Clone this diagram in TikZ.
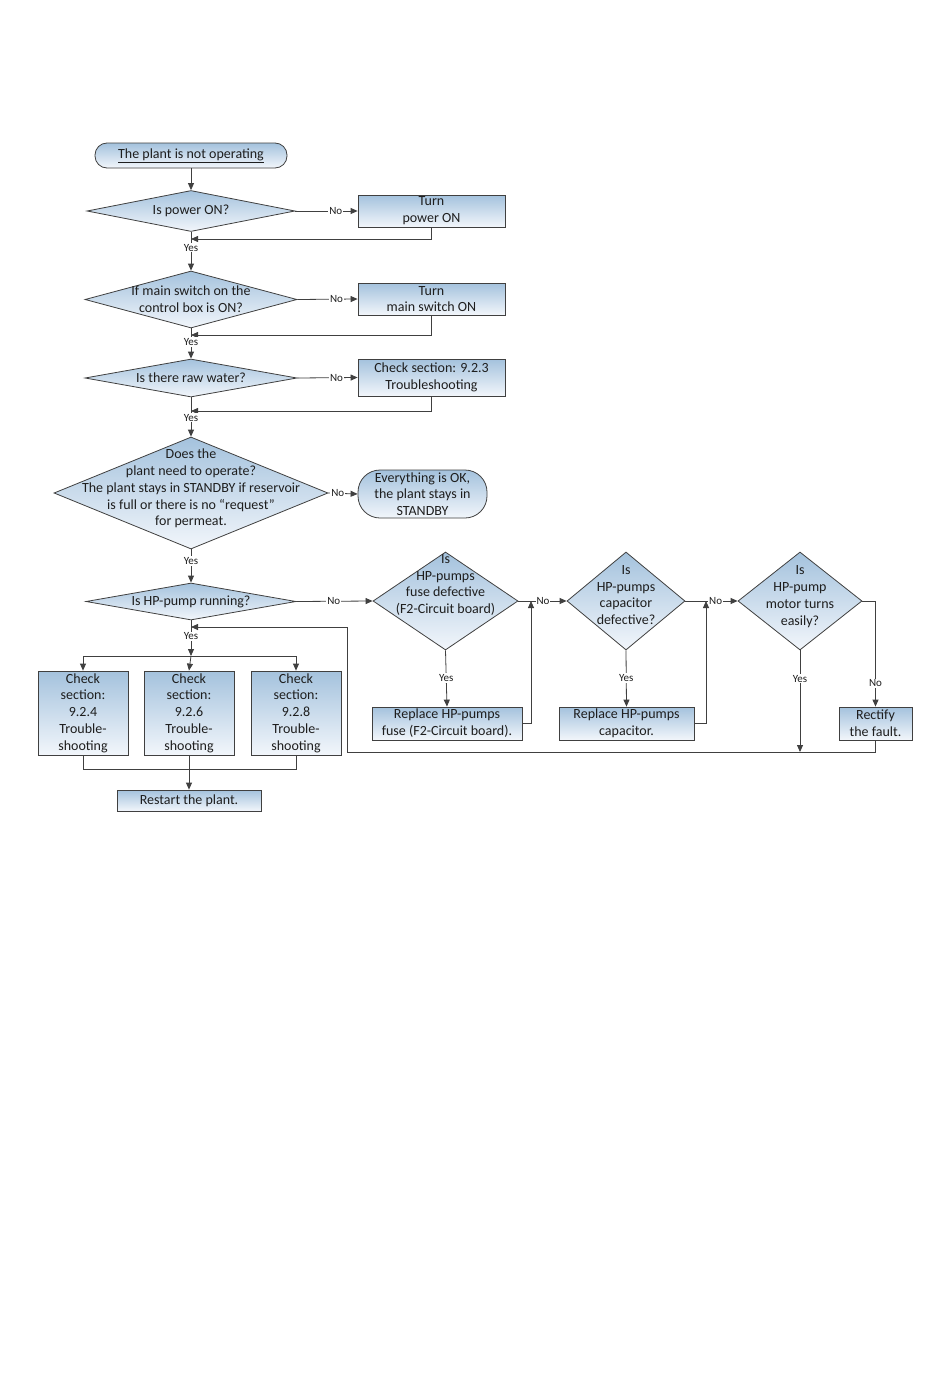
\documentclass[tikz,border=0pt]{standalone}
\usepackage{fontspec}
\setmainfont{Carlito}
\usetikzlibrary{shapes.geometric,arrows.meta}
\definecolor{lnc}{HTML}{404040}
\definecolor{fillA}{RGB}{164,194,221}
\definecolor{fillB}{RGB}{242,246,251}
\definecolor{txc}{HTML}{1E1E1E}
\begin{document}
\begin{tikzpicture}[x=1pt,y=-1pt,
  every node/.style={text=txc},
  txt/.style={font=\fontsize{14}{16.8}\selectfont, align=center, inner sep=0pt},
  boxs/.style={draw=lnc, line width=0.8pt, top color=fillA, bottom color=fillB, rectangle, inner sep=0pt, font=\fontsize{14}{16.8}\selectfont, align=center},
  term/.style={boxs, rounded corners=12pt},
  dia/.style={draw=lnc, line width=0.8pt, top color=fillA, bottom color=fillB, diamond, inner sep=0pt},
  lab/.style={font=\fontsize{11}{12}\selectfont, fill=white, inner sep=1pt},
  ln/.style={draw=lnc, line width=0.8pt},
  arr/.style={ln, -{Triangle[length=7pt,width=6pt]}}]
\useasboundingbox (0,0) rectangle (950,1397);
\fill[white] (0,0) rectangle (950,1397);

% shapes
\node[term, minimum width=192pt, minimum height=25pt] (start) at (191,155.5) {\underline{The plant is not operating}};
\node[dia, minimum width=208pt, minimum height=41pt] (d1) at (191,211) {};
\node[txt] (d1t) at (191,211) {Is power ON?};
\node[boxs, minimum width=147pt, minimum height=32pt] (b1) at (431.5,211) {Turn\\power ON};

\node[dia, minimum width=212pt, minimum height=57pt] (d2) at (191,299.5) {};
\node[txt] (d2t) at (191,299.5) {If main switch on the\\control box is ON?};
\node[boxs, minimum width=147pt, minimum height=32pt] (b2) at (431.5,299) {Turn\\main switch ON};

\node[dia, minimum width=212pt, minimum height=38pt] (d3) at (191,378) {};
\node[txt] (d3t) at (191,378) {Is there raw water?};
\node[boxs, minimum width=147pt, minimum height=37pt] (b3) at (431.5,377.5) {Check section: 9.2.3\\Troubleshooting};

\node[dia, minimum width=274pt, minimum height=112pt] (d4) at (191,493) {};
\node[txt] (d4t) at (191,488.5) {Does the\\plant need to operate?\\The plant stays in STANDBY if reservoir\\is full or there is no “request”\\for permeat.};
\node[term, rounded corners=22pt, minimum width=129pt, minimum height=48pt] (t2) at (422.5,494) {Everything is OK,\\the plant stays in\\STANDBY};

\node[dia, minimum width=210pt, minimum height=37pt] (d5) at (191,601.5) {};
\node[txt] (d5t) at (191,601.5) {Is HP-pump running?};

\node[dia, minimum width=145pt, minimum height=98pt] (d6) at (445.5,601) {};
\node[txt] (d6t) at (445.5,585) {Is\\HP-pumps\\fuse defective\\(F2-Circuit board)};
\node[boxs, minimum width=150pt, minimum height=33pt] (r6) at (447,723.5) {Replace HP-pumps\\fuse (F2-Circuit board).};

\node[dia, minimum width=118pt, minimum height=98pt] (d7) at (626,601) {};
\node[txt] (d7t) at (626,595) {Is\\HP-pumps\\capacitor\\defective?};
\node[boxs, minimum width=135pt, minimum height=33pt] (r7) at (626.5,723.5) {Replace HP-pumps\\capacitor.};

\node[dia, minimum width=124pt, minimum height=98pt] (d8) at (800,601) {};
\node[txt] (d8t) at (800,596.5) {Is\\HP-pump\\motor turns\\easily?};
\node[boxs, minimum width=73pt, minimum height=33pt] (rf) at (875.5,723.5) {Rectify\\the fault.};

\node[boxs, minimum width=90pt, minimum height=84pt] (ca) at (83,713) {Check\\section:\\9.2.4\\Trouble-\\shooting};
\node[boxs, minimum width=90pt, minimum height=84pt] (cb) at (189,713) {Check\\section:\\9.2.6\\Trouble-\\shooting};
\node[boxs, minimum width=90pt, minimum height=84pt] (cc) at (296,713) {Check\\section:\\9.2.8\\Trouble-\\shooting};
\node[boxs, minimum width=144pt, minimum height=21pt] (rs) at (189,800.5) {Restart the plant.};

% coordinates
\coordinate (m1) at (191,239);
\coordinate (m2) at (191,335);
\coordinate (m3) at (191,411);
\coordinate (m5) at (191,627);
\coordinate (br) at (191,656);
\coordinate (j6) at (531,601);
\coordinate (j7) at (706,601);
\coordinate (j8) at (800,752);
\coordinate (loopA) at (347,752);
\coordinate (jb) at (189,769);

% connectors
\draw[arr] (start) -- (d1);
\draw[arr] (d1.east) -- node[lab, pos=0.65] {No} (b1.west);
\draw[arr] (b1.south) |- (m1);
\draw[arr] (d1.south) -- node[lab, pos=0.41] {Yes} (d2.north);
\draw[arr] (d2.east) -- node[lab, pos=0.65] {No} (b2.west);
\draw[arr] (b2.south) |- (m2);
\draw[arr] (d2.south) -- node[lab, pos=0.45] {Yes} (d3.north);
\draw[arr] (d3.east) -- node[lab, pos=0.65] {No} (b3.west);
\draw[arr] (b3.south) |- (m3);
\draw[arr] (d3.south) -- node[lab, pos=0.52] {Yes} (d4.north);
\draw[arr] (d4.east) -- node[lab, pos=0.32] {No} (t2.west);
\draw[arr] (d4.south) -- node[lab, pos=0.35] {Yes} (d5.north);
\draw[arr] (d5.east) -- node[lab, pos=0.49] {No} (d6.west);
\draw[arr] (d6.east) -- node[lab, pos=0.51] {No} (d7.west);
\draw[arr] (d7.east) -- node[lab, pos=0.58] {No} (d8.west);
\draw[arr] (d6.south) -- node[lab, pos=0.49] {Yes} (r6.north);
\draw[arr] (d7.south) -- node[lab, pos=0.49] {Yes} (r7.north);
\draw[arr] (r6.east) -| (j6);
\draw[arr] (r7.east) -| (j7);
\draw[arr] (d8.east) -| node[lab, pos=0.89] {No} (rf.north);
\draw[arr] (d8.south) -- node[lab, pos=0.28] {Yes} (j8);
\draw[arr] (rf.south) |- (loopA) |- (m5);
\draw[arr] (d5.south) -- node[lab, pos=0.44] {Yes} (br);
\draw[arr] (br) -| (ca.north);
\draw[arr] (br) -- (cb.north);
\draw[arr] (br) -| (cc.north);
\draw[ln] (ca.south) |- (jb);
\draw[ln] (cc.south) |- (jb);
\draw[arr] (cb.south) -- (rs.north);
\end{tikzpicture}
\end{document}
